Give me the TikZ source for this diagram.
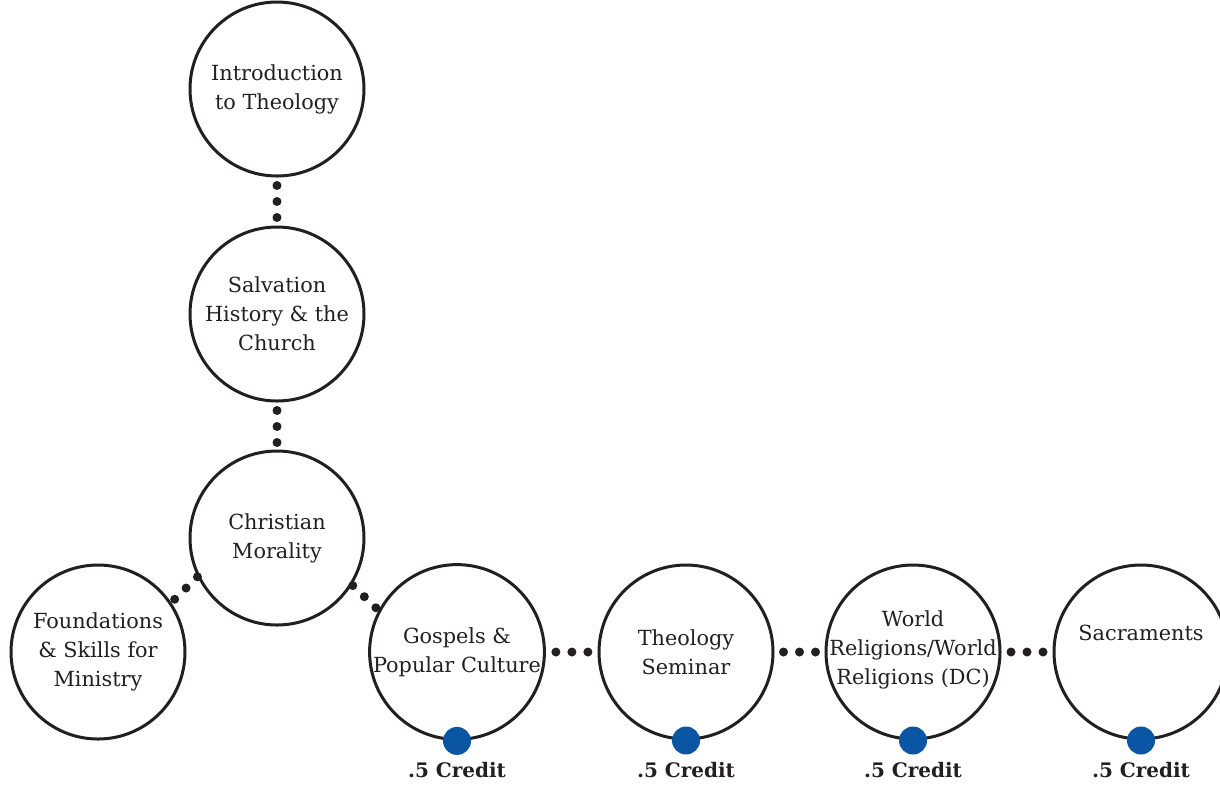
\documentclass[tikz,border=0pt]{standalone}
\usepackage{fontspec}
\setmainfont{DejaVu Serif}
\usetikzlibrary{positioning}
\definecolor{ink}{HTML}{231F20}
\definecolor{creditblue}{HTML}{0B55A5}
\tikzset{
	course/.style={circle, draw=ink, line width=1.5pt, minimum size=87pt, inner sep=0pt, align=center, text=ink, font=\fontsize{10.4}{14.5}\selectfont},
	link/.style={draw=ink, line width=4.5pt, line cap=round, dash pattern=on 0pt off 8pt, shorten <=#1, shorten >=#1-0.6pt},
	link/.default=0pt,
	creditdot/.style={circle, fill=creditblue, minimum size=14pt, inner sep=0pt},
	creditlabel/.style={inner sep=0pt, text=ink, font=\fontsize{10}{12}\selectfont\bfseries}
}
\newcommand{\credit}[1] % course node name
{
	% blue dot on the bottom of the circle
	\node[creditdot] (#1dot) at (#1.south) {};
	% label under the dot
	\node[creditlabel, below=3.5pt of #1dot] (#1label) {.5 Credit};
}

\begin{document}
\begin{tikzpicture}[x=0.5pt, y=-0.5pt]
	% 1220 x 784 px frame, 1px = 0.5pt
	\useasboundingbox (0, 0) rectangle (1220, 784);
	
	% core column
	\node[course] (intro) at (277, 89) {Introduction\\to Theology};
	\node[course] (salv) at (277, 314) {Salvation\\History \& the\\Church};
	\node[course] (moral) at (277, 538) {Christian\\Morality};
	
	% bottom row
	\node[course] (found) at (98, 652) {Foundations\\\& Skills for\\Ministry};
	\node[course] (gosp) at (457, 652) {Gospels \&\\Popular Culture};
	\node[course] (sem) at (686, 652) {Theology\\Seminar};
	\node[course, inner sep=-6pt] (world) at (913, 652) {World\\Religions/World\\Religions (DC)\\[-10.5pt]};
	\node[course] (sacr) at (1141, 652) {Sacraments\\\strut};
	
	% dotted links
	\draw[link=4pt] (intro) -- (salv);
	\draw[link=4pt] (salv) -- (moral);
	\draw[link] (moral.206) -- (found.34);
	\draw[link=0.5pt] (moral.328) -- (gosp.152);
	\draw[link=5pt] (gosp) -- (sem);
	\draw[link=4.5pt] (sem) -- (world);
	\draw[link=4.75pt] (world) -- (sacr);
	
	% half credits
	\credit{gosp};
	\credit{sem};
	\credit{world};
	\credit{sacr};
	
\end{tikzpicture}
\end{document}
